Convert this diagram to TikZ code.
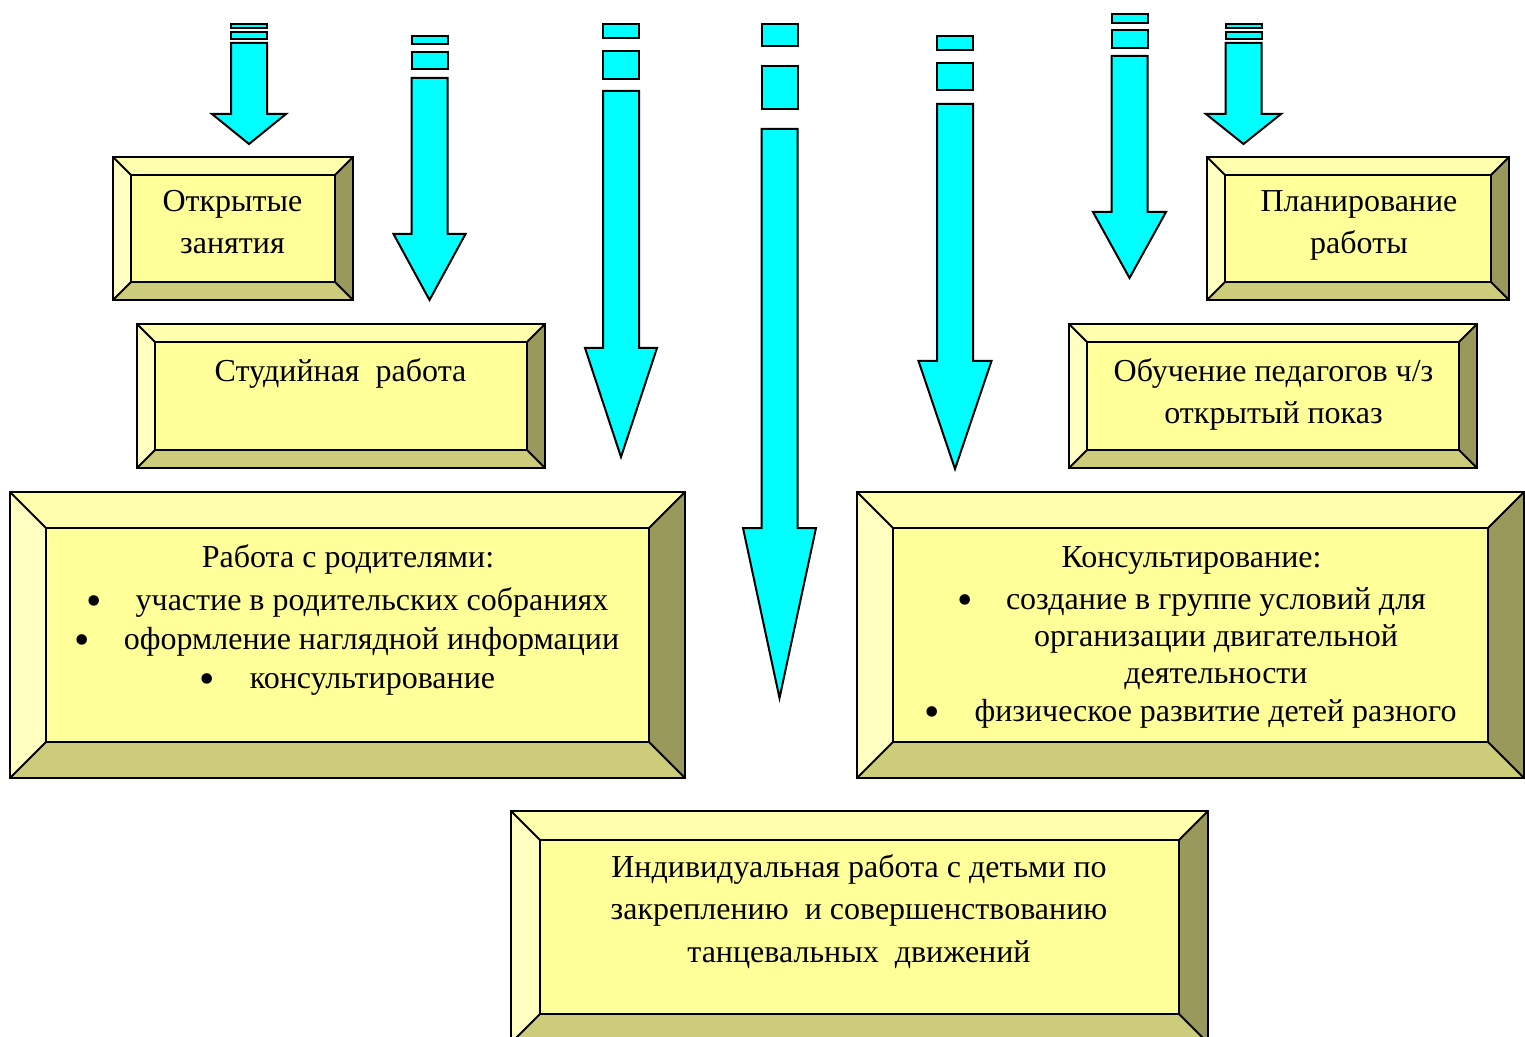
\documentclass[tikz,border=0pt]{standalone}
\usepackage{fontspec}
\setmainfont{Liberation Serif}
\definecolor{bface}{HTML}{FFFF99}
\definecolor{btop}{HTML}{FFFFAD}
\definecolor{bleft}{HTML}{FFFFC2}
\definecolor{bright}{HTML}{99995C}
\definecolor{bbottom}{HTML}{CCCC7A}
\definecolor{arrowfill}{HTML}{00FFFF}
\tikzset{
  edge/.style={draw=black, line width=1pt, line join=miter},
  txt/.style={inner sep=0pt, font=\fontsize{16}{19}\selectfont, anchor=base},
  bul/.style={inner sep=0pt, font=\fontsize{22}{22}\selectfont, anchor=base},
  arr/.style={fill=arrowfill, draw=black, line width=1pt, line join=miter}
}
% bevel box: x1 y1 x2 y2 bevel
\newcommand\bevbox[5]{%
  \fill[bface] (#1+#5,#2+#5) rectangle (#3-#5,#4-#5);
  \fill[btop] (#1,#2) -- (#3,#2) -- (#3-#5,#2+#5) -- (#1+#5,#2+#5) -- cycle;
  \fill[bleft] (#1,#2) -- (#1+#5,#2+#5) -- (#1+#5,#4-#5) -- (#1,#4) -- cycle;
  \fill[bright] (#3,#2) -- (#3,#4) -- (#3-#5,#4-#5) -- (#3-#5,#2+#5) -- cycle;
  \fill[bbottom] (#1,#4) -- (#1+#5,#4-#5) -- (#3-#5,#4-#5) -- (#3,#4) -- cycle;
  \draw[edge] (#1,#2) rectangle (#3,#4);
  \draw[edge] (#1+#5,#2+#5) rectangle (#3-#5,#4-#5);
  \draw[edge] (#1,#2) -- (#1+#5,#2+#5);
  \draw[edge] (#3,#2) -- (#3-#5,#2+#5);
  \draw[edge] (#1,#4) -- (#1+#5,#4-#5);
  \draw[edge] (#3,#4) -- (#3-#5,#4-#5);
}
% striped arrow: cx s1t s1b s2t s2b shafttop headtop tip headhalf
\newcommand\striparrow[9]{%
  \draw[arr] (#1-18,#2) rectangle (#1+18,#3);
  \draw[arr] (#1-18,#4) rectangle (#1+18,#5);
  \draw[arr] (#1-18,#6) -- (#1+18,#6) -- (#1+18,#7) -- (#1+#9,#7) -- (#1,#8)
    -- (#1-#9,#7) -- (#1-18,#7) -- cycle;
}
\begin{document}
\begin{tikzpicture}[x=0.5pt,y=-0.5pt]
\useasboundingbox (0,0) rectangle (1525,1037);
\clip (0,0) rectangle (1525,1037);

% arrows
\striparrow{249}{24}{28}{32}{39}{43}{114}{144}{37}
\striparrow{429.5}{36}{44}{52}{69}{78}{234}{300}{36}
\striparrow{621}{24}{38}{51}{79}{91}{348}{457}{36}
\striparrow{779.5}{24}{46}{66}{109}{129}{528}{698}{36.5}
\striparrow{955}{36}{50}{63}{90}{104}{361}{469}{36.5}
\striparrow{1129.5}{14}{23}{30}{48}{56}{212}{278}{36.5}
\striparrow{1243.5}{24}{28}{32}{39}{43}{114}{144}{37.5}

% boxes
\bevbox{113}{157}{353}{300}{18}
\bevbox{1207}{157}{1509}{300}{18}
\bevbox{137}{324}{545}{468}{18}
\bevbox{1069}{324}{1477}{468}{18}
\bevbox{10}{492}{685}{778}{36}
\bevbox{857}{492}{1524}{778}{36}
\bevbox{511}{811}{1208}{1043}{29}

% texts
\node[txt] (t1a) at (232.5,212) {Открытые};
\node[txt] (t1b) at (232.5,254) {занятия};
\node[txt] (t2a) at (1359,212) {Планирование};
\node[txt] (t2b) at (1359,254) {работы};
\node[txt] (t3a) at (340.5,382) {Студийная~~работа};
\node[txt] (t4a) at (1273.5,381) {Обучение педагогов ч/з};
\node[txt] (t4b) at (1273.5,423) {открытый показ};

\node[txt] (t5a) at (348,567) {Работа с родителями:};
\node[bul] (b5a) at (94,615) {•};
\node[txt] (t5b) at (372,610) {участие в родительских собраниях};
\node[bul] (b5b) at (82,654) {•};
\node[txt] (t5c) at (371.5,649) {оформление наглядной информации};
\node[bul] (b5c) at (207,693) {•};
\node[txt] (t5d) at (372.5,688) {консультирование};

\node[txt] (t6a) at (1191.5,567) {Консультирование:};
\node[bul] (b6a) at (965,614) {•};
\node[txt] (t6b) at (1216,609) {создание в группе условий для};
\node[txt] (t6c) at (1216,646) {организации двигательной};
\node[txt] (t6d) at (1216,683) {деятельности};
\node[bul] (b6b) at (932,726) {•};
\node[txt] (t6e) at (1215.5,721) {физическое развитие детей разного};

\node[txt] (t7a) at (859,877) {Индивидуальная работа с детьми по};
\node[txt] (t7b) at (859,919) {закреплению~~и совершенствованию};
\node[txt] (t7c) at (859,962) {танцевальных~~движений};
\end{tikzpicture}
\end{document}
